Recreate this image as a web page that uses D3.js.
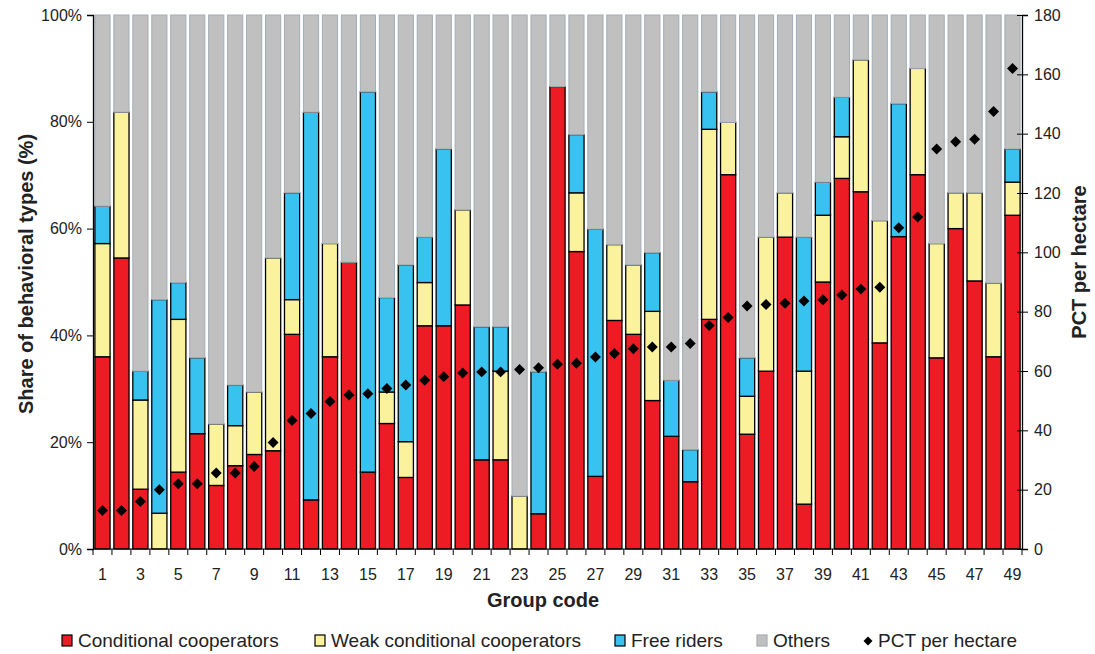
<!DOCTYPE html>
<html>
<head>
<meta charset="utf-8">
<script src="https://cdn.jsdelivr.net/npm/d3@7"></script>
<style>
  body { margin: 0; background: #fff; }
  svg { font-family: 'Liberation Sans', Arial, sans-serif; }
</style>
</head>
<body>
<script>
const groups = d3.range(1, 50);

const conditional = [36.0, 54.5, 11.2, 0, 14.4, 21.6, 11.9, 15.6, 17.7, 18.4,
                     40.2, 9.2, 36.0, 53.7, 14.4, 23.5, 13.4, 41.8, 41.8, 45.7,
                     16.7, 16.7, 0, 6.6, 86.6, 55.7, 13.6, 42.8, 40.2, 27.8,
                     21.1, 12.6, 43.0, 70.1, 21.5, 33.3, 58.4, 8.4, 50.0, 69.4,
                     66.9, 38.6, 58.5, 70.1, 35.8, 60.0, 50.2, 36.0, 62.5];

const weakConditional = [21.2, 27.3, 16.7, 6.7, 28.6, 0, 11.5, 7.5, 11.7, 36.1,
                         6.5, 0, 21.2, 0, 0, 5.9, 6.7, 8.1, 0, 17.8,
                         0, 16.6, 9.9, 0, 0, 11.0, 0, 14.2, 13.0, 16.7,
                         0, 0, 35.6, 9.8, 7.1, 25.1, 8.3, 24.9, 12.5, 7.8,
                         24.7, 22.9, 0, 19.9, 21.4, 6.7, 16.5, 13.8, 6.2];

const freeRiders = [7.0, 0, 5.4, 40.0, 6.9, 14.2, 0, 7.6, 0, 0,
                    20.0, 72.6, 0, 0, 71.2, 17.7, 33.1, 8.5, 33.1, 0,
                    24.9, 8.3, 0, 26.6, 0, 10.9, 46.3, 0, 0, 11.0,
                    10.5, 6.0, 7.0, 0, 7.2, 0, 0, 25.1, 6.2, 7.4,
                    0, 0, 24.9, 0, 0, 0, 0, 0, 6.2];

const pctPerHectare = [13.0, 13.0, 16.0, 20.0, 22.0, 22.0, 25.6, 25.6, 27.8, 35.9,
                       43.3, 45.7, 49.7, 51.9, 52.3, 54.1, 55.3, 56.9, 58.1, 59.3,
                       59.7, 59.7, 60.5, 61.1, 62.3, 62.6, 64.7, 65.9, 67.5, 68.1,
                       68.1, 69.3, 75.3, 78.0, 81.9, 82.4, 82.8, 83.6, 84.0, 85.6,
                       87.6, 88.2, 108.3, 111.9, 134.8, 137.3, 138.1, 147.5, 162.0];

const seriesNames = ['Conditional cooperators', 'Weak conditional cooperators', 'Free riders', 'Others'];
const seriesKeys = ['cond', 'weak', 'free', 'others'];
const seriesColors = ['#ed1c24', '#fbf29e', '#37c2ef', '#c0c0c0'];
const leftTicks = [0, 20, 40, 60, 80, 100];
const rightTicks = [0, 20, 40, 60, 80, 100, 120, 140, 160, 180];

const width = 1095,
      height = 654,
      margin = { top: 15, right: 73, bottom: 105, left: 93 };

const rows = groups.map(function(g, i) {
  return {
    group: g,
    cond: conditional[i],
    weak: weakConditional[i],
    free: freeRiders[i],
    others: 100 - conditional[i] - weakConditional[i] - freeRiders[i]
  };
});

const stacked = d3.stack().keys(seriesKeys)(rows);

const x = d3.scaleBand()
            .domain(groups)
            .range([margin.left, width - margin.right])
            .paddingInner(0.2)
            .paddingOuter(0.1);

const yLeft = d3.scaleLinear().domain([0, 100]).range([height - margin.bottom, margin.top]),
      yRight = d3.scaleLinear().domain([0, 180]).range([height - margin.bottom, margin.top]);

const svg = d3.select('body')
              .append('svg')
              .attr('width', width)
              .attr('height', height);

// stacked bars
svg.append('g')
   .selectAll('g')
   .data(stacked)
   .enter()
   .append('g')
   .attr('fill', function(d, i) { return seriesColors[i]; })
   .attr('stroke', function(d) { return d.key === 'others' ? '#a3adb5' : '#000'; })
   .attr('stroke-width', function(d) { return d.key === 'others' ? 1 : 1.3; })
   .selectAll('rect')
   .data(function(d) { return d.filter(function(s) { return s[1] - s[0] > 0.01; }); })
   .enter()
   .append('rect')
   .attr('x', function(d) { return x(d.data.group); })
   .attr('y', function(d) { return yLeft(d[1]); })
   .attr('width', x.bandwidth())
   .attr('height', function(d) { return yLeft(d[0]) - yLeft(d[1]); });

// left axis
const leftAxis = svg.append('g')
                    .attr('transform', `translate(${margin.left},0)`)
                    .call(d3.axisLeft(yLeft).tickValues(leftTicks).tickSize(6).tickPadding(5)
                            .tickFormat(function(d) { return d + '%'; }));

// right axis
const rightAxis = svg.append('g')
                     .attr('transform', `translate(${width - margin.right},0)`)
                     .call(d3.axisRight(yRight).tickValues(rightTicks).tickSize(6).tickPadding(6));
rightAxis.selectAll('.tick line').attr('x1', -5);

// bottom axis: ticks on band edges, labels on odd groups
const bottom = height - margin.bottom;
const xAxis = svg.append('g');
xAxis.append('line')
     .attr('x1', margin.left).attr('x2', width - margin.right)
     .attr('y1', bottom).attr('y2', bottom)
     .attr('stroke', '#000');
const step = x.step();
const edges = d3.range(groups.length + 1).map(function(i) { return margin.left + i * step; });
xAxis.selectAll('.edge')
     .data(edges)
     .enter()
     .append('line')
     .attr('x1', function(d) { return d; })
     .attr('x2', function(d) { return d; })
     .attr('y1', bottom)
     .attr('y2', bottom + 6)
     .attr('stroke', '#000');
xAxis.selectAll('text')
     .data(groups.filter(function(g) { return g % 2 === 1; }))
     .enter()
     .append('text')
     .attr('x', function(d) { return x(d) + x.bandwidth() / 2; })
     .attr('y', bottom + 31)
     .attr('text-anchor', 'middle')
     .attr('font-size', 16)
     .attr('fill', '#222')
     .text(function(d) { return d; });

[leftAxis, rightAxis].forEach(function(a) {
  a.select('.domain').attr('stroke', '#000').attr('stroke-width', 1.3);
  a.selectAll('text').attr('font-size', 16).attr('fill', '#222')
   .attr('font-family', "'Liberation Sans', Arial, sans-serif");
});

// PCT diamonds
svg.append('g')
   .selectAll('path')
   .data(pctPerHectare)
   .enter()
   .append('path')
   .attr('d', d3.symbol(d3.symbolSquare, 60))
   .attr('transform', function(d, i) {
     return `translate(${x(groups[i]) + x.bandwidth() / 2},${yRight(d)}) rotate(45)`;
   })
   .attr('fill', '#000');

// axis titles
svg.append('text')
   .attr('transform', `translate(33,${(margin.top + bottom) / 2 - 8}) rotate(-90)`)
   .attr('text-anchor', 'middle')
   .attr('font-size', 20)
   .attr('font-weight', 'bold')
   .attr('fill', '#222')
   .text('Share of behavioral types (%)');

svg.append('text')
   .attr('transform', `translate(1086,262) rotate(-90)`)
   .attr('text-anchor', 'middle')
   .attr('font-size', 20)
   .attr('font-weight', 'bold')
   .attr('fill', '#222')
   .text('PCT per hectare');

svg.append('text')
   .attr('x', 543)
   .attr('y', 607)
   .attr('text-anchor', 'middle')
   .attr('font-size', 20)
   .attr('font-weight', 'bold')
   .attr('fill', '#222')
   .text('Group code');

// legend
const legendX = [62, 315, 615, 757];
const legend = svg.append('g');
seriesNames.forEach(function(name, i) {
  legend.append('rect')
        .attr('x', legendX[i])
        .attr('y', 635)
        .attr('width', 10)
        .attr('height', 11)
        .attr('fill', seriesColors[i])
        .attr('stroke', i === 3 ? '#a3adb5' : '#000')
        .attr('stroke-width', 1.2);
  legend.append('text')
        .attr('x', legendX[i] + 16)
        .attr('y', 647)
        .attr('font-size', 19)
        .attr('fill', '#222')
        .text(name);
});
legend.append('path')
      .attr('d', d3.symbol(d3.symbolSquare, 40))
      .attr('transform', 'translate(868,641) rotate(45)')
      .attr('fill', '#000');
legend.append('text')
      .attr('x', 878)
      .attr('y', 647)
      .attr('font-size', 19)
      .attr('fill', '#222')
      .text('PCT per hectare');
</script>
</body>
</html>
